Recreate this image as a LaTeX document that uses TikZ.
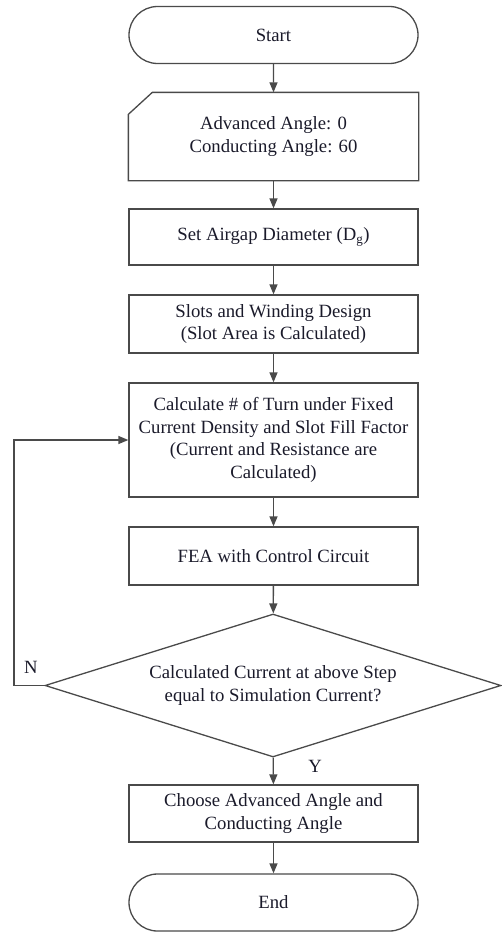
\documentclass[tikz,border=0pt]{standalone}
\usepackage{fontspec}
\setmainfont{Liberation Serif}
\usetikzlibrary{shapes.misc,shapes.geometric,arrows.meta}
\definecolor{linec}{HTML}{4A4A4A}
\definecolor{textc}{HTML}{1A1A2A}
\tikzset{
  base/.style={draw=linec, line width=1.3pt, text=textc, align=center, inner sep=0pt,
    font=\fontsize{18.7}{22.5}\selectfont},
  boxstep/.style={base, rectangle, minimum width=289pt},
  term/.style={base, rounded rectangle, minimum width=289pt, minimum height=57pt},
  decide/.style={base, diamond, aspect=3.2, minimum width=456pt, minimum height=143pt},
  conn/.style={draw=linec, line width=1.3pt, -{Triangle[length=10pt,width=8pt]}},
  lbl/.style={text=textc, font=\fontsize{18.7}{22.5}\selectfont, inner sep=0pt}
}
\begin{document}
\begin{tikzpicture}[x=1pt,y=-1pt]
\useasboundingbox (0,0) rectangle (502,934);
\node[term] (start) at (273.5,35) {Start};
\node[boxstep, draw=none, minimum height=87pt] (input) at (273.5,136.5) {Advanced Angle: 0\\Conducting Angle: 60};
\draw[draw=linec, line width=1.3pt] ([xshift=24pt]input.north west) -- (input.north east) -- (input.south east) -- (input.south west) -- ([yshift=-22pt]input.north west) -- cycle;
\node[boxstep, minimum height=56pt] (airgap) at (273.5,237) {Set Airgap Diameter (D\textsubscript{g})};
\node[boxstep, minimum height=58pt] (slots) at (273.5,324) {Slots and Winding Design\\(Slot Area is Calculated)};
\node[boxstep, minimum height=114pt] (calc) at (273.5,440) {Calculate \# of Turn under Fixed\\Current Density and Slot Fill Factor\\(Current and Resistance are\\Calculated)};
\node[boxstep, minimum height=58pt] (fea) at (273.5,556) {FEA with Control Circuit};
\node[decide] (dec) at (273,685.5) {Calculated Current at above Step\\equal to Simulation Current?};
\node[boxstep, minimum height=57pt] (choose) at (273.5,813.5) {Choose Advanced Angle and\\Conducting Angle};
\node[term] (end) at (273.5,902.5) {End};
\coordinate (lp1) at (14,685.5);
\coordinate (lp2) at (14,440);
\node[lbl] (nlab) at (31,667) {N};
\node[lbl] (ylab) at (315,766) {Y};
\draw[conn] (start) -- (input);
\draw[conn] (input) -- (airgap);
\draw[conn] (airgap) -- (slots);
\draw[conn] (slots) -- (calc);
\draw[conn] (calc) -- (fea);
\draw[conn] (fea) -- (dec);
\draw[conn] (dec) -- (choose);
\draw[conn] (choose) -- (end);
\draw[conn] (dec.west) -- (lp1) -- (lp2) -- (calc.west);
\end{tikzpicture}
\end{document}
